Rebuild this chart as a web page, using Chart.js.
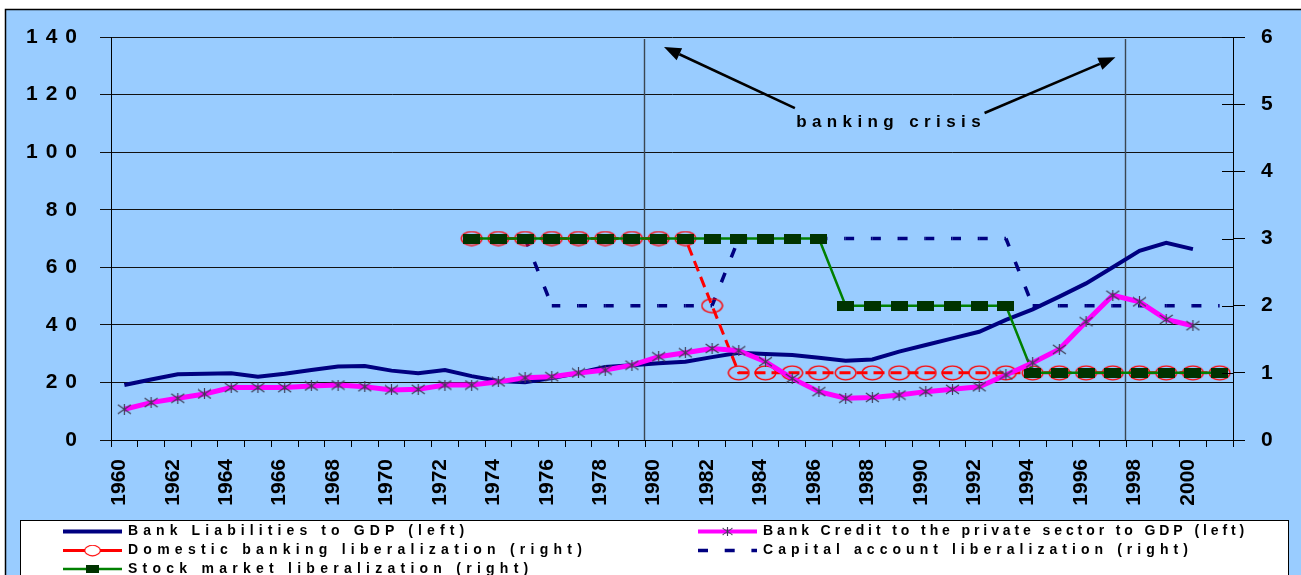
<!DOCTYPE html>
<html>
<head>
<meta charset="UTF-8">
<title>Bank liabilities, credit and liberalization</title>
<script src="https://cdn.jsdelivr.net/npm/chart.js"></script>
<style>
  html, body { margin: 0; padding: 0; background: #fff; }
  #wrap { width: 1301px; height: 575px; }
</style>
</head>
<body>
<div id="wrap"><canvas id="chart"></canvas></div>
<script>
// ---- data ----
const years = ['1960','1961','1962','1963','1964','1965','1966','1967','1968','1969',
               '1970','1971','1972','1973','1974','1975','1976','1977','1978','1979',
               '1980','1981','1982','1983','1984','1985','1986','1987','1988','1989',
               '1990','1991','1992','1993','1994','1995','1996','1997','1998','1999',
               '2000','2001'];

// left axis (% of GDP)
const bankLiabilities = [19.1, 21.0, 22.8, 23.0, 23.2, 22.0, 23.0, 24.3, 25.5, 25.7,
                         24.1, 23.2, 24.3, 22.2, 20.5, 20.1, 21.5, 23.3, 25.4, 26.0,
                         26.7, 27.2, 28.8, 30.3, 29.9, 29.5, 28.6, 27.5, 28.0, 30.7,
                         33.0, 35.3, 37.6, 41.7, 45.4, 49.8, 54.4, 60.0, 65.7, 68.5,
                         66.3, null];
const bankCredit = [10.7, 13.0, 14.5, 16.0, 18.2, 18.2, 18.2, 18.8, 19.1, 18.5,
                    17.4, 17.6, 19.1, 19.1, 20.2, 21.6, 22.0, 23.3, 24.3, 26.0,
                    28.9, 30.3, 31.8, 31.0, 27.2, 21.4, 16.8, 14.5, 14.8, 15.6,
                    16.8, 17.6, 18.5, 22.6, 26.8, 31.5, 41.1, 50.3, 48.0, 41.9,
                    39.7, null];

// right axis (liberalization index)
const domesticLib = [null, null, null, null, null, null, null, null, null, null,
                     null, null, null, 3, 3, 3, 3, 3, 3, 3,
                     3, 3, 2, 1, 1, 1, 1, 1, 1, 1,
                     1, 1, 1, 1, 1, 1, 1, 1, 1, 1,
                     1, 1];
const capitalLib = [null, null, null, null, null, null, null, null, null, null,
                    null, null, null, 3, 3, 3, 2, 2, 2, 2,
                    2, 2, 2, 3, 3, 3, 3, 3, 3, 3,
                    3, 3, 3, 3, 2, 2, 2, 2, 2, 2,
                    2, 2];
const stockLib = [null, null, null, null, null, null, null, null, null, null,
                  null, null, null, 3, 3, 3, 3, 3, 3, 3,
                  3, 3, 3, 3, 3, 3, 3, 2, 2, 2,
                  2, 2, 2, 2, 1, 1, 1, 1, 1, 1,
                  1, 1];

const labels = ['Bank Liabilities to GDP (left)',
                'Bank Credit to the private sector to GDP (left)',
                'Domestic banking liberalization (right)',
                'Capital account liberalization (right)',
                'Stock market liberalization (right)'];

// crisis annotations (x = category index, y = left axis value)
const crisisYears = ['1980', '1998'];
const crisisText = 'banking crisis';
const crisisTextAt = [28.6, 110.5];
const crisisArrows = [
    { from: [25.1, 115.3], to: [20.2, 136.5] },
    { from: [32.2, 113.6], to: [37.1, 133.0] }
];

const FONT = '"Liberation Sans", Arial, sans-serif';

// ---- marker images ----
function makeMarker(w, h, paint) {
    const c = document.createElement('canvas');
    c.width = w; c.height = h;
    paint(c.getContext('2d'), w, h);
    return c;
}
const ellipseMarker = makeMarker(23, 16, (g, w, h) => {
    g.strokeStyle = '#ff0000'; g.lineWidth = 1.3;
    g.beginPath(); g.ellipse(w / 2, h / 2, 10.3, 6.9, 0, 0, Math.PI * 2); g.stroke();
});
const squareMarker = makeMarker(17, 10, (g, w, h) => {
    g.fillStyle = '#003300'; g.fillRect(0, 0, w, h);
});
const starMarker = makeMarker(15, 11, (g, w, h) => {
    g.strokeStyle = '#3d3d55'; g.lineWidth = 1.2;
    g.beginPath();
    g.moveTo(1, 1); g.lineTo(w - 1, h - 1);
    g.moveTo(w - 1, 1); g.lineTo(1, h - 1);
    g.moveTo(w / 2, 0); g.lineTo(w / 2, h);
    g.stroke();
});

// ---- plugins ----
const framePlugin = {
    id: 'frame',
    beforeDraw(chart) {
        const ctx = chart.ctx, w = chart.width, h = chart.height;
        ctx.save();
        ctx.fillStyle = '#ffffff';
        ctx.fillRect(0, 0, w, h);
        ctx.fillStyle = '#99ccff';
        ctx.fillRect(5, 9, w - 5, h - 9);
        ctx.strokeStyle = '#000'; ctx.lineWidth = 1.5;
        ctx.beginPath();
        ctx.moveTo(5.5, h); ctx.lineTo(5.5, 9.5); ctx.lineTo(w, 9.5);
        ctx.stroke();
        ctx.restore();
    }
};

// the y tick labels in the figure are widely spaced ("1 4 0")
const tickSpacingPlugin = {
    id: 'tickSpacing',
    afterLayout(chart) {
        const s = chart.scales.y;
        if (!s || s._spaced) return;
        const orig = s.drawLabels.bind(s);
        s.drawLabels = function(area) {
            chart.ctx.save();
            chart.ctx.letterSpacing = '8px';
            orig(area);
            chart.ctx.restore();
        };
        s._spaced = true;
    },
    // right axis tick marks cross the axis line
    afterDraw(chart) {
        const {ctx, chartArea, scales: {y1}} = chart;
        ctx.save();
        ctx.strokeStyle = '#000'; ctx.lineWidth = 1;
        y1.ticks.forEach(t => {
            const py = Math.round(y1.getPixelForValue(t.value)) + 0.5;
            ctx.beginPath(); ctx.moveTo(chartArea.right - 11, py); ctx.lineTo(chartArea.right, py); ctx.stroke();
        });
        ctx.restore();
    }
};

const crisisPlugin = {
    id: 'crisis',
    beforeDatasetsDraw(chart) {
        const {ctx, chartArea, scales: {x}} = chart;
        ctx.save();
        ctx.strokeStyle = '#3a4652';
        ctx.lineWidth = 1.4;
        crisisYears.forEach(yr => {
            const px = Math.round(x.getPixelForValue(years.indexOf(yr) - 0.5)) - 0.5;
            ctx.beginPath();
            ctx.moveTo(px, chartArea.top + 2);
            ctx.lineTo(px, chartArea.bottom);
            ctx.stroke();
        });
        ctx.restore();
    },
    afterDatasetsDraw(chart) {
        const {ctx, scales: {x, y}} = chart;
        ctx.save();
        ctx.strokeStyle = '#000'; ctx.fillStyle = '#000'; ctx.lineWidth = 2.6;
        crisisArrows.forEach(a => {
            const x0 = x.getPixelForValue(a.from[0]), y0 = y.getPixelForValue(a.from[1]);
            const x1 = x.getPixelForValue(a.to[0]), y1 = y.getPixelForValue(a.to[1]);
            const ang = Math.atan2(y1 - y0, x1 - x0);
            const hl = 17, hw = 6.5;
            const bx = x1 - hl * Math.cos(ang), by = y1 - hl * Math.sin(ang);
            ctx.beginPath(); ctx.moveTo(x0, y0); ctx.lineTo(bx, by); ctx.stroke();
            ctx.beginPath();
            ctx.moveTo(x1, y1);
            ctx.lineTo(bx + hw * Math.sin(ang), by - hw * Math.cos(ang));
            ctx.lineTo(bx - hw * Math.sin(ang), by + hw * Math.cos(ang));
            ctx.closePath(); ctx.fill();
        });
        ctx.font = 'bold 17px ' + FONT;
        ctx.letterSpacing = '5.4px';
        ctx.textAlign = 'center'; ctx.textBaseline = 'middle';
        ctx.fillText(crisisText, x.getPixelForValue(crisisTextAt[0]) + 2.7, y.getPixelForValue(crisisTextAt[1]));
        ctx.restore();
    }
};

// legend box under the axis, two columns like the original
const legendPlugin = {
    id: 'boxLegend',
    afterDraw(chart) {
        const ctx = chart.ctx;
        const rows = [531.5, 550.5, 569];
        const cols = [63, 698];
        const spacing = [5.1, 3.9, 5.25, 5.05, 5.25];
        ctx.save();
        ctx.fillStyle = '#fff';
        ctx.fillRect(20, 520, 1269, 60);
        ctx.strokeStyle = '#000'; ctx.lineWidth = 1;
        ctx.strokeRect(20.5, 520.5, 1268, 60);
        chart.data.datasets.forEach((ds, i) => {
            const x0 = cols[i % 2], yy = rows[Math.floor(i / 2)];
            const marker = ds.pointStyle instanceof HTMLCanvasElement ? ds.pointStyle : null;
            ctx.save();
            ctx.strokeStyle = ds.borderColor;
            ctx.lineWidth = Math.min(ds.borderWidth, 4);
            ctx.setLineDash(marker ? [] : (ds.borderDash || []));
            ctx.beginPath(); ctx.moveTo(x0, yy); ctx.lineTo(x0 + 59, yy); ctx.stroke();
            ctx.restore();
            if (marker) {
                const s = 0.75;
                const mw = marker.width * s, mh = marker.height * s;
                if (marker === ellipseMarker) {
                    ctx.fillStyle = '#fff';
                    ctx.beginPath(); ctx.ellipse(x0 + 29.5, yy, mw / 2 - 1, mh / 2 - 1, 0, 0, Math.PI * 2); ctx.fill();
                }
                ctx.drawImage(marker, x0 + 29.5 - mw / 2, yy - mh / 2, mw, mh);
            }
            ctx.fillStyle = '#000';
            ctx.font = 'bold 14px ' + FONT;
            ctx.letterSpacing = spacing[i] + 'px';
            ctx.textBaseline = 'middle';
            ctx.fillText(ds.label, x0 + 65, yy);
        });
        ctx.restore();
    }
};

// ---- chart ----
new Chart(document.getElementById('chart'), {
    type: 'line',
    data: {
        labels: years,
        datasets: [{
            label: labels[0],
            data: bankLiabilities,
            yAxisID: 'y',
            borderColor: '#000080',
            borderWidth: 4,
            pointRadius: 0,
            order: 4
        }, {
            label: labels[1],
            data: bankCredit,
            yAxisID: 'y',
            borderColor: '#ff00ff',
            borderWidth: 5,
            pointStyle: starMarker,
            pointRadius: 5,
            order: 0
        }, {
            label: labels[2],
            data: domesticLib,
            yAxisID: 'y1',
            borderColor: '#ff0000',
            borderWidth: 3,
            borderDash: [11, 6],
            pointStyle: ellipseMarker,
            pointRadius: 5,
            order: 2
        }, {
            label: labels[3],
            data: capitalLib,
            yAxisID: 'y1',
            borderColor: '#000080',
            borderWidth: 3.5,
            borderDash: [10, 16.7],
            pointRadius: 0,
            order: 3,
            // restart the dash at every point, as the original does
            segment: {
                borderDashOffset: c => (c.p0DataIndex % 2 ? 1.5 : 1.5 + 26.7)
            }
        }, {
            label: labels[4],
            data: stockLib,
            yAxisID: 'y1',
            borderColor: '#008000',
            borderWidth: 2.5,
            pointStyle: squareMarker,
            pointRadius: 5,
            order: 1
        }]
    },
    options: {
        responsive: true,
        maintainAspectRatio: false,
        animation: false,
        layout: { padding: { top: 37, left: 0, right: 0, bottom: 0 } },
        plugins: {
            legend: { display: false },
            tooltip: { enabled: false }
        },
        scales: {
            x: {
                offset: true,
                grid: { offset: true, drawOnChartArea: false, tickLength: 7, color: '#000' },
                border: { color: '#000', width: 1 },
                ticks: {
                    autoSkip: false,
                    maxRotation: 90,
                    minRotation: 90,
                    labelOffset: -5,
                    padding: 12,
                    color: '#000',
                    font: { family: FONT, size: 21, weight: 'bold' },
                    callback: function(val, i) { return i % 2 === 0 ? this.getLabelForValue(val) : ''; }
                },
                afterFit: s => { s.height = 135; }
            },
            y: {
                position: 'left',
                min: 0,
                max: 140,
                ticks: {
                    stepSize: 20,
                    padding: 15,
                    color: '#000',
                    font: { family: FONT, size: 21, weight: 'bold' }
                },
                grid: { color: '#111', tickLength: 11 },
                border: { color: '#000', width: 1 },
                afterFit: s => { s.width = 111; }
            },
            y1: {
                position: 'right',
                min: 0,
                max: 6,
                ticks: {
                    stepSize: 1,
                    padding: 16,
                    color: '#000',
                    font: { family: FONT, size: 21, weight: 'bold' }
                },
                grid: { drawOnChartArea: false, color: '#000', tickLength: 12 },
                border: { color: '#000', width: 1 },
                afterFit: s => { s.width = 68; }
            }
        }
    },
    plugins: [framePlugin, tickSpacingPlugin, crisisPlugin, legendPlugin]
});
</script>
</body>
</html>
